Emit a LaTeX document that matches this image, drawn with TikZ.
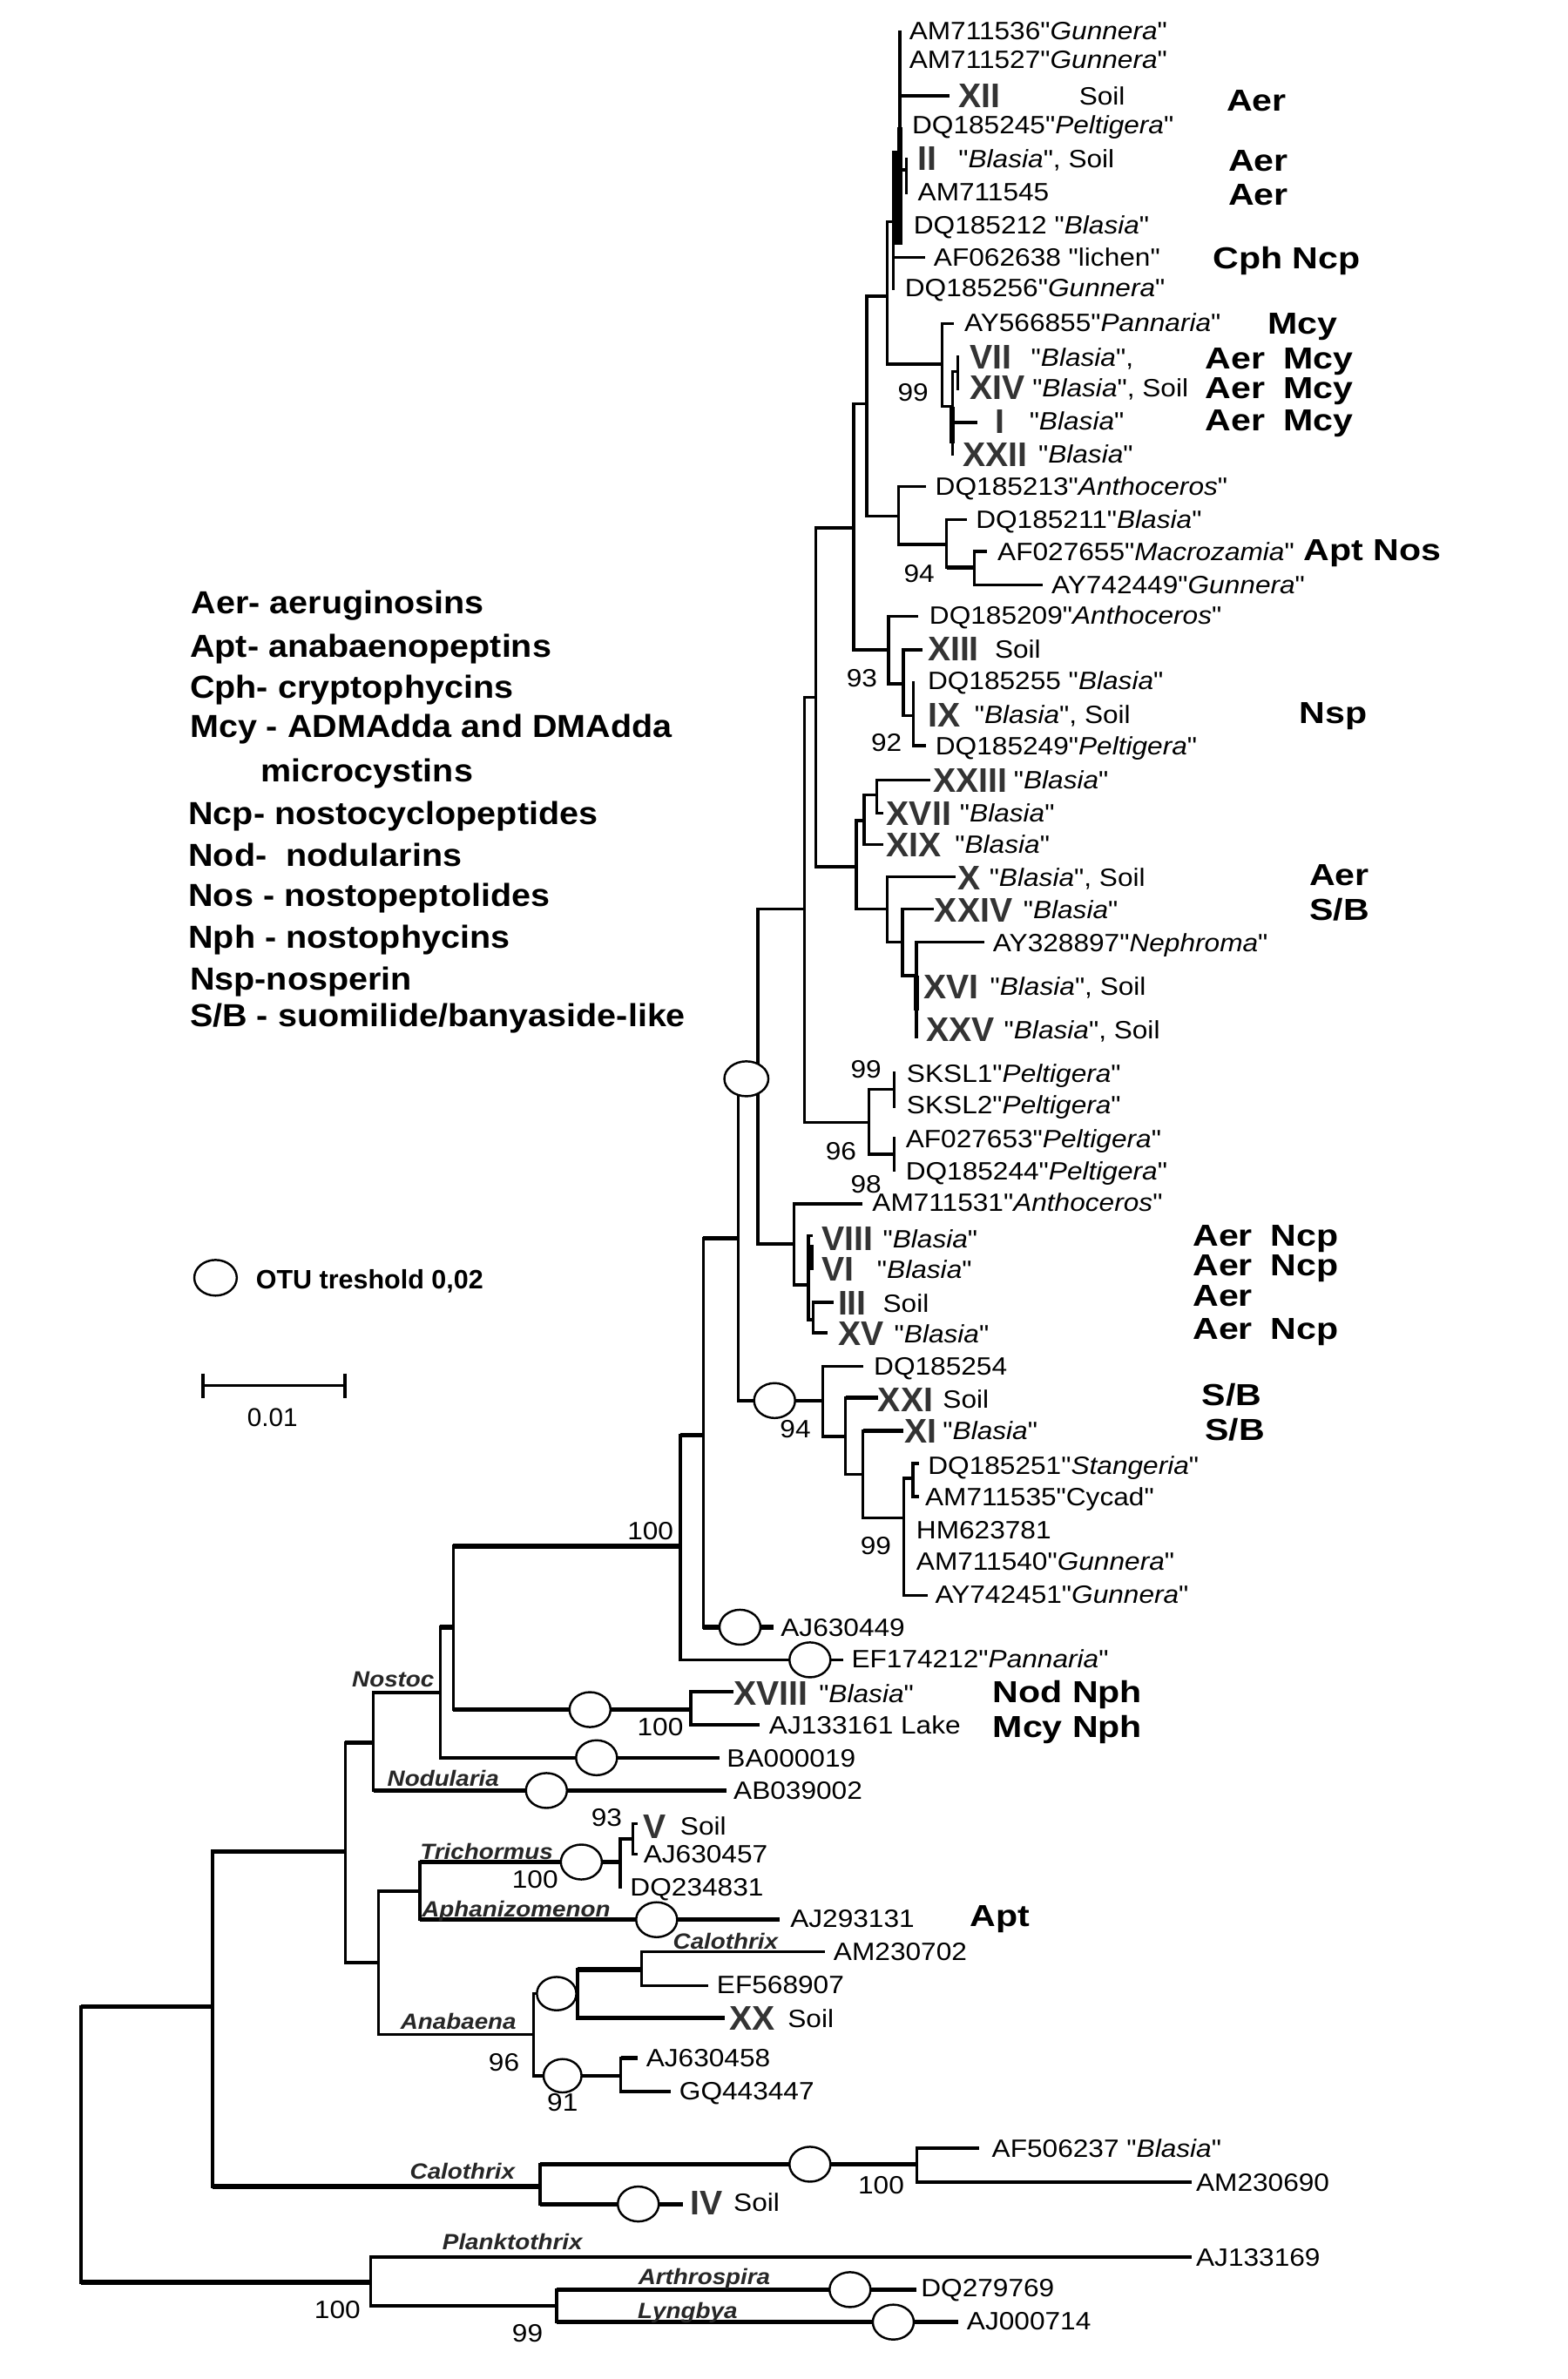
\documentclass[tikz,border=0pt]{standalone}
\usepackage{fontspec}
\setmainfont{Liberation Sans}
\newfontfamily\tipf[FakeStretch=1.1]{Liberation Sans}
\newfontfamily\toxf[FakeStretch=1.18]{Liberation Sans}
\newfontfamily\legf[FakeStretch=1.08]{Liberation Sans}
\newfontfamily\numf{Liberation Sans}
\usetikzlibrary{shapes.geometric}
\begin{document}
\begin{tikzpicture}[x=1pt,y=-1pt,line join=miter,
  br/.style={line width=2pt},
  thk/.style={line width=3pt},
  tip/.style={font=\tipf\fontsize{16.5}{16.5}\selectfont,anchor=west,inner sep=0pt,text height=11.8pt,text depth=0pt},
  num/.style={font=\numf\bfseries\fontsize{22.5}{22.5}\selectfont,text=black!80,anchor=west,inner sep=0pt,text height=16pt,text depth=0pt},
  tox/.style={font=\toxf\bfseries\fontsize{20}{20}\selectfont,anchor=west,inner sep=0pt,text height=14.3pt,text depth=0pt},
  leg/.style={font=\legf\bfseries\fontsize{21}{21}\selectfont,anchor=west,inner sep=0pt,text height=15pt,text depth=0pt},
  genus/.style={font=\tipf\bfseries\itshape\fontsize{14.5}{14.5}\selectfont,text=black!85,inner sep=0pt,text height=10.4pt,text depth=0pt},
  boot/.style={font=\tipf\fontsize{16.5}{16.5}\selectfont,inner sep=0pt,text height=11.8pt,text depth=0pt},
  otu/.style={ellipse,draw,fill=white,line width=1.4pt,inner sep=0pt,minimum width=27pt,minimum height=23pt},
]
\fill[white] (0,0) rectangle (1033,1567.3);
\useasboundingbox (0,0) rectangle (1033,1567.3);

% ---------- internal nodes ----------
\coordinate (root) at (53.3,1412);
\coordinate (AG) at (140,1321.8);
\coordinate (AQ) at (244.3,1503.6);
\coordinate (AR) at (366.7,1519.1);
\coordinate (AK) at (355.8,1440.4);
\coordinate (AP) at (604,1425.8);
\coordinate (AE) at (227.5,1219.6);
\coordinate (AD) at (246,1148);
\coordinate (AF) at (249.5,1293);
\coordinate (AC) at (290,1115);
\coordinate (AA) at (298.7,1072);
\coordinate (X) at (448.3,1018.6);
\coordinate (AB) at (455,1126.3);
\coordinate (AH) at (276.7,1246);
\coordinate (AL) at (351.4,1340.3);
\coordinate (AI) at (408.5,1226.7);
\coordinate (AJ) at (416.8,1211.4);
\coordinate (AM) at (380.5,1313.4);
\coordinate (AN) at (422.7,1297.5);
\coordinate (AO) at (409,1367.5);
\coordinate (Y) at (463.4,945.5);
\coordinate (Z) at (486.3,815.7);
\coordinate (S) at (499.3,710.7);
\coordinate (J) at (530,598.8);
\coordinate (H) at (537.5,459.5);
\coordinate (A) at (562.3,347.8);
\coordinate (B) at (571,266);
\coordinate (C) at (584.5,195);
\coordinate (TC) at (588.5,146);
\coordinate (TCa) at (592.7,100);
\coordinate (TCb) at (597,112);
\coordinate (MN) at (620.7,240);
\coordinate (MN2) at (627.4,267.8);
\coordinate (MN3) at (630.9,244.8);
\coordinate (D) at (592,340);
\coordinate (E) at (623.6,358.7);
\coordinate (F) at (641.8,374);
\coordinate (G) at (585.5,428);
\coordinate (K) at (595,450.6);
\coordinate (L) at (601.6,471.4);
\coordinate (I) at (564.2,571);
\coordinate (M) at (569.4,540.6);
\coordinate (N) at (577.5,523.8);
\coordinate (O) at (584.4,598.8);
\coordinate (P) at (594.6,620.8);
\coordinate (Q) at (603.6,642.8);
\coordinate (R) at (572.4,739.5);
\coordinate (T) at (589.2,717.5);
\coordinate (U) at (589.2,760.5);
\coordinate (V) at (523.2,819.6);
\coordinate (V2) at (532.5,846.5);
\coordinate (V3) at (535.6,869.5);
\coordinate (W) at (542,922.7);
\coordinate (W2) at (557,946.4);
\coordinate (W3) at (568.5,971.2);
\coordinate (W4) at (595.5,1000);
\coordinate (W5) at (601.5,974);

% ---------- branch ends ----------
\coordinate (t1) at (592.7,20);
\coordinate (t2) at (592.7,40);
\coordinate (t3) at (625.6,63);
\coordinate (t4) at (592.7,82);
\coordinate (t5) at (597,104);
\coordinate (t6) at (597,128);
\coordinate (t7) at (588.5,148);
\coordinate (t8) at (609.3,169.5);
\coordinate (t9) at (588.5,191);
\coordinate (t10) at (628.4,213.3);
\coordinate (t11) at (630.9,234.3);
\coordinate (t12) at (630.9,257.3);
\coordinate (t13) at (643.7,278.3);
\coordinate (t14) at (627.4,300);
\coordinate (t15) at (610,320.4);
\coordinate (t16) at (637,342.4);
\coordinate (t17) at (650.4,363.4);
\coordinate (t18) at (686.7,385.4);
\coordinate (t19) at (605,406);
\coordinate (t20) at (608,428);
\coordinate (t21) at (601.6,448.6);
\coordinate (t22) at (601.6,471.4);
\coordinate (t23) at (610,491.2);
\coordinate (t24) at (613,513.9);
\coordinate (t25) at (582,535.6);
\coordinate (t26) at (582,556.4);
\coordinate (t27) at (629.4,577.7);
\coordinate (t28) at (615,598.8);
\coordinate (t29) at (648.5,620.8);
\coordinate (t30) at (603.6,650);
\coordinate (t31) at (603.6,684);
\coordinate (t32) at (589.2,706);
\coordinate (t33) at (589.2,729.8);
\coordinate (t34) at (589.2,749);
\coordinate (t35) at (589.2,772);
\coordinate (t36) at (568,793);
\coordinate (t37) at (535.6,814);
\coordinate (t38) at (535.6,836);
\coordinate (t39) at (549,858);
\coordinate (t40) at (545.2,878);
\coordinate (t41) at (568.5,900);
\coordinate (t42) at (578.2,920.7);
\coordinate (t43) at (595,942.5);
\coordinate (t44) at (605.4,964);
\coordinate (t45) at (605.4,986);
\coordinate (t46) at (595.5,1007.7);
\coordinate (t47) at (595.5,1028.5);
\coordinate (t48) at (611,1051);
\coordinate (t49) at (509.5,1072);
\coordinate (t50) at (555.6,1093.5);
\coordinate (t51) at (483.2,1114.5);
\coordinate (t52) at (500.6,1136.2);
\coordinate (t53) at (474.3,1158);
\coordinate (t54) at (478.7,1179.6);
\coordinate (t55) at (420,1201.5);
\coordinate (t56) at (420,1221.6);
\coordinate (t57) at (408.5,1244);
\coordinate (t58) at (513.9,1264.7);
\coordinate (t59) at (543.5,1285.8);
\coordinate (t60) at (466.7,1308.2);
\coordinate (t61) at (477.6,1329.6);
\coordinate (t62) at (420,1355.8);
\coordinate (t63) at (442,1378);
\coordinate (t64) at (645,1415.1);
\coordinate (t65) at (785,1437.5);
\coordinate (t66) at (450,1452);
\coordinate (t67) at (785,1487);
\coordinate (t68) at (604,1508.4);
\coordinate (t69) at (631.4,1529.8);

% ---------- branches ----------
\foreach \p/\c in {root/AG,root/AQ,AG/AE,AG/AK,AQ/t67,AQ/AR,AR/t68,AR/t69,AK/AP,AK/t66,AP/t64,AP/t65,
  AE/AD,AE/AF,AD/AC,AD/t54,AC/AA,AC/t53,AA/X,AA/AB,AB/t51,AB/t52,AF/AH,AF/AL,AH/AI,AH/t58,
  AI/AJ,AI/t57,AJ/t55,AJ/t56,AL/AM,AL/AO,AM/AN,AM/t61,AN/t59,AN/t60,AO/t62,AO/t63,
  X/Y,X/t50,Y/Z,Y/t49,Z/S,Z/W,S/J,S/V,J/H,J/R,H/A,H/I,A/B,A/G,B/C,B/D,C/TC,C/MN,
  TC/TCa,TC/TCb,TC/t7,TC/t8,TC/t9,TCa/t1,TCa/t2,TCa/t3,TCa/t4,TCb/t5,TCb/t6,
  MN/t10,MN/MN2,MN2/MN3,MN2/t13,MN2/t14,MN3/t11,MN3/t12,D/t15,D/E,E/t16,E/F,F/t17,F/t18,
  G/t19,G/K,K/t20,K/L,L/t21,L/t22,L/t23,I/M,I/O,M/N,M/t26,N/t24,N/t25,O/t27,O/P,P/t28,P/Q,
  Q/t29,Q/t30,Q/t31,R/T,R/U,T/t32,T/t33,U/t34,U/t35,V/t36,V/V2,V2/t37,V2/t38,V2/V3,V3/t39,V3/t40,
  W/t41,W/W2,W2/t42,W2/W3,W3/t43,W3/W4,W4/W5,W4/t46,W4/t47,W4/t48,W5/t44,W5/t45}
  {\draw[br] (\p) |- (\c);}
% thicker horizontals
\foreach \p/\c in {root/AG,root/AQ,AG/AE,AG/AK,AR/t68,AR/t69,AK/AP,AK/t66,AE/AD,AD/t54,AC/AA,
  AA/X,AA/AB,AH/AI,AH/t58,AM/AN,AM/t61,AO/t62,X/Y,Y/Z,Y/t49,E/F,W2/t42,W3/t43}
  {\draw[thk] (\p |- \c) -- (\c);}
% bold bars
\fill (591,84) rectangle (594.5,100);
\fill (587.5,100) rectangle (594.5,161);
\fill (625.6,267.8) rectangle (629.2,292);
\fill (601.9,642.8) rectangle (605.6,665.7);
\fill (531.8,820) rectangle (536.2,837);

% ---------- OTU ellipses ----------
\node[otu,minimum width=29pt] (e1) at (491.7,710.7) {};
\node[otu] (e2) at (510.3,922.7) {};
\node[otu] (e3) at (487.5,1072) {};
\node[otu] (e4) at (533.6,1093.5) {};
\node[otu] (e5) at (388.7,1126.3) {};
\node[otu] (e6) at (393,1158) {};
\node[otu] (e7) at (360,1179.6) {};
\node[otu] (e8) at (383,1226.7) {};
\node[otu] (e9) at (432.6,1264.7) {};
\node[otu,minimum width=26pt,minimum height=22pt] (e10) at (366.7,1313.4) {};
\node[otu,minimum width=25pt,minimum height=22pt] (e11) at (370.6,1367.5) {};
\node[otu] (e12) at (533.6,1425.8) {};
\node[otu] (e13) at (420.5,1452) {};
\node[otu] (e14) at (560,1508.4) {};
\node[otu] (e15) at (588.5,1529.8) {};

% ---------- tip labels ----------
\node[tip] (a1) at (598.8,20.1) {AM711536"\textit{Gunnera}"};
\node[tip] (a2) at (598.8,39.2) {AM711527"\textit{Gunnera}"};
\node[num] (n3) at (631.3,63.1) {XII};
\node[tip] (h3) at (710.7,63.1) {Soil};
\node[tox] (x3) at (808,66) {Aer};
\node[tip] (a4) at (600.7,82) {DQ185245"\textit{Peltigera}"};
\node[num] (n5) at (604.5,104.3) {II};
\node[tip] (h5) at (631.3,104.3) {"\textit{Blasia}", Soil};
\node[tox] (x5) at (809,105.6) {Aer};
\node[tip] (a6) at (604.5,126.3) {AM711545};
\node[tox] (x6) at (809,128) {Aer};
\node[tip] (a7) at (601.7,148.3) {DQ185212 "\textit{Blasia}"};
\node[tip] (a8) at (615,169.5) {AF062638 "lichen"};
\node[tox] (x8) at (799,170) {Cph Ncp};
\node[tip] (a9) at (596,189.4) {DQ185256"\textit{Gunnera}"};
\node[tip] (a10) at (635.1,212.3) {AY566855"\textit{Pannaria}"};
\node[tox] (x10) at (835,213) {Mcy};
\node[num] (n11) at (638.9,235.3) {VII};
\node[tip] (h11) at (679.1,235.3) {"\textit{Blasia}",};
\node[tox] (x11) at (794,235.8) {Aer};
\node[tox] (y11) at (845.5,235.8) {Mcy};
\node[num] (n12) at (638.9,255.4) {XIV};
\node[tip] (h12) at (680,255.4) {"\textit{Blasia}", Soil};
\node[tox] (x12) at (794,255.3) {Aer};
\node[tox] (y12) at (845.5,255.3) {Mcy};
\node[num] (n13) at (655.2,277.4) {I};
\node[tip] (h13) at (678,277.4) {"\textit{Blasia}"};
\node[tox] (x13) at (794,276.8) {Aer};
\node[tox] (y13) at (845.5,276.8) {Mcy};
\node[num] (n14) at (634.1,299.4) {XXII};
\node[tip] (h14) at (683.9,299.4) {"\textit{Blasia}"};
\node[tip] (a15) at (616,320.4) {DQ185213"\textit{Anthoceros}"};
\node[tip] (a16) at (642.7,342.4) {DQ185211"\textit{Blasia}"};
\node[tip] (a17) at (657,363.4) {AF027655"\textit{Macrozamia}"};
\node[tox] (x17) at (858.7,362) {Apt Nos};
\node[tip] (a18) at (692.5,385.4) {AY742449"\textit{Gunnera}"};
\node[tip] (a19) at (612.1,405.5) {DQ185209"\textit{Anthoceros}"};
\node[num] (n20) at (611,427.5) {XIII};
\node[tip] (h20) at (655.2,427.5) {Soil};
\node[tip] (a21) at (611,448.6) {DQ185255 "\textit{Blasia}"};
\node[num] (n22) at (611.3,471) {IX};
\node[tip] (h22) at (641.9,471) {"\textit{Blasia}", Soil};
\node[tox] (x22) at (856,469.4) {Nsp};
\node[tip] (a23) at (616.1,491.2) {DQ185249"\textit{Peltigera}"};
\node[num] (n24) at (614.5,513.9) {XXIII};
\node[tip] (h24) at (667.7,513.9) {"\textit{Blasia}"};
\node[num] (n25) at (583.9,535.6) {XVII};
\node[tip] (h25) at (632.2,535.6) {"\textit{Blasia}"};
\node[num] (n26) at (583.9,556.4) {XIX};
\node[tip] (h26) at (629,556.4) {"\textit{Blasia}"};
\node[num] (n27) at (630.6,578) {X};
\node[tip] (h27) at (651.6,578) {"\textit{Blasia}", Soil};
\node[tox] (x27) at (862.5,576) {Aer};
\node[num] (n28) at (615.5,599.2) {XXIV};
\node[tip] (h28) at (674,599.2) {"\textit{Blasia}"};
\node[tox] (x28) at (862.6,599) {S/B};
\node[tip] (a29) at (654,621) {AY328897"\textit{Nephroma}"};
\node[num] (n30) at (608.2,649.7) {XVI};
\node[tip] (h30) at (652.1,649.7) {"\textit{Blasia}", Soil};
\node[num] (n31) at (610,678.3) {XXV};
\node[tip] (h31) at (661.3,678.3) {"\textit{Blasia}", Soil};
\node[tip] (a32) at (597.2,707) {SKSL1"\textit{Peltigera}"};
\node[tip] (a33) at (597.2,727.7) {SKSL2"\textit{Peltigera}"};
\node[tip] (a34) at (596.5,750) {AF027653"\textit{Peltigera}"};
\node[tip] (a35) at (596.5,771.2) {DQ185244"\textit{Peltigera}"};
\node[tip] (a36) at (574.5,792) {AM711531"\textit{Anthoceros}"};
\node[num] (n37) at (541.3,816) {VIII};
\node[tip] (h37) at (581.5,816) {"\textit{Blasia}"};
\node[tox] (x37) at (785.7,813.7) {Aer};
\node[tox] (y37) at (837,813.7) {Ncp};
\node[num] (n38) at (541.3,836) {VI};
\node[tip] (h38) at (577.7,836) {"\textit{Blasia}"};
\node[tox] (x38) at (785.7,833.5) {Aer};
\node[tox] (y38) at (837,833.5) {Ncp};
\node[num] (n39) at (551.9,858.5) {III};
\node[tip] (h39) at (581.5,858.5) {Soil};
\node[tox] (x39) at (785.7,853.3) {Aer};
\node[num] (n40) at (551.9,878.5) {XV};
\node[tip] (h40) at (589,878.5) {"\textit{Blasia}"};
\node[tox] (x40) at (785.7,875) {Aer};
\node[tox] (y40) at (837,875) {Ncp};
\node[tip] (a41) at (575.5,900) {DQ185254};
\node[num] (n42) at (578.2,921.7) {XXI};
\node[tip] (h42) at (621,921.7) {Soil};
\node[tox] (x42) at (791.6,918.8) {S/B};
\node[num] (n43) at (595.7,942.5) {XI};
\node[tip] (h43) at (621,942.5) {"\textit{Blasia}"};
\node[tox] (x43) at (793.6,941.5) {S/B};
\node[tip] (a44) at (611.2,965.2) {DQ185251"\textit{Stangeria}"};
\node[tip] (a45) at (609.3,986) {AM711535"Cycad"};
\node[tip] (a46) at (603.5,1007.7) {HM623781};
\node[tip] (a47) at (603.5,1028.5) {AM711540"\textit{Gunnera}"};
\node[tip] (a48) at (615.9,1050.2) {AY742451"\textit{Gunnera}"};
\node[tip] (a49) at (514.2,1072) {AJ630449};
\node[tip] (a50) at (560.8,1093) {EF174212"\textit{Pannaria}"};
\node[num] (n51) at (483.2,1115.5) {XVIII};
\node[tip] (h51) at (539.4,1115.5) {"\textit{Blasia}"};
\node[tox] (x51) at (653.9,1114.5) {Nod Nph};
\node[tip] (a52) at (506.5,1136.2) {AJ133161 Lake};
\node[tox] (x52) at (653.9,1137.2) {Mcy Nph};
\node[tip] (a53) at (478.7,1158.5) {BA000019};
\node[tip] (a54) at (483.1,1179.6) {AB039002};
\node[num] (n55) at (423.8,1203.2) {V};
\node[tip] (h55) at (448,1203.2) {Soil};
\node[tip] (a56) at (423.8,1221.6) {AJ630457};
\node[tip] (a57) at (415,1243.1) {DQ234831};
\node[tip] (a58) at (520.5,1263.6) {AJ293131};
\node[tox] (x58) at (639,1262) {Apt};
\node[tip] (a59) at (549,1285.8) {AM230702};
\node[tip] (a60) at (472.1,1307.2) {EF568907};
\node[num] (n61) at (480.4,1329.6) {XX};
\node[tip] (h61) at (518.8,1329.6) {Soil};
\node[tip] (a62) at (425.5,1355.8) {AJ630458};
\node[tip] (a63) at (447.4,1377.2) {GQ443447};
\node[tip] (a64) at (653.3,1415.1) {AF506237 "\textit{Blasia}"};
\node[tip] (a65) at (787.8,1437.5) {AM230690};
\node[num] (n66) at (454.6,1451.1) {IV};
\node[tip] (h66) at (483.1,1451.1) {Soil};
\node[tip] (a67) at (787.8,1487) {AJ133169};
\node[tip] (a68) at (606.6,1507.4) {DQ279769};
\node[tip] (a69) at (636.8,1528.8) {AJ000714};

% ---------- bootstrap values ----------
\node[boot] (b1) at (601.5,258.3) {99};
\node[boot] (b2) at (605.5,377.5) {94};
\node[boot] (b3) at (567.8,446.6) {93};
\node[boot] (b4) at (584,489) {92};
\node[boot] (b5) at (570.5,704) {99};
\node[boot] (b6) at (554,758.4) {96};
\node[boot] (b7) at (570.5,780) {98};
\node[boot] (b8) at (524,941.5) {94};
\node[boot] (b9) at (577,1018) {99};
\node[boot] (b10) at (428.5,1008.5) {100};
\node[boot] (b11) at (435,1137.5) {100};
\node[boot] (b12) at (399.7,1197) {93};
\node[boot] (b13) at (352.5,1238) {100};
\node[boot] (b14) at (332,1358.7) {96};
\node[boot] (b15) at (370.6,1385) {91};
\node[boot] (b16) at (580.5,1439.4) {100};
\node[boot] (b17) at (222.3,1521.6) {100};
\node[boot] (b18) at (347.5,1537) {99};

% ---------- genus labels ----------
\node[genus] (g1) at (259,1106) {Nostoc};
\node[genus] (g2) at (292,1171.4) {Nodularia};
\node[genus] (g3) at (320.6,1219.6) {Trichormus};
\node[genus] (g4) at (340,1257.5) {Aphanizomenon};
\node[genus] (g5) at (478,1279) {Calothrix};
\node[genus] (g6) at (302,1331.5) {Anabaena};
\node[genus] (g7) at (304.7,1430.6) {Calothrix};
\node[genus] (g8) at (337.6,1477) {Planktothrix};
\node[genus] (g9) at (464,1499.7) {Arthrospira};
\node[genus] (g10) at (453,1522) {Lyngbya};

% ---------- legend ----------
\node[leg] (L1) at (126,397) {Aer- aeruginosins};
\node[leg] (L2) at (125,425.7) {Apt- anabaenopeptins};
\node[leg] (L3) at (125,452.4) {Cph- cryptophycins};
\node[leg] (L4) at (125,478.5) {Mcy - ADMAdda and DMAdda};
\node[leg] (L5) at (171.5,507.5) {microcystins};
\node[leg] (L6) at (124,535.4) {Ncp- nostocyclopeptides};
\node[leg] (L7) at (124,563) {Nod-\ \ nodularins};
\node[leg] (L8) at (124,589.7) {Nos - nostopeptolides};
\node[leg] (L9) at (124,617.4) {Nph - nostophycins};
\node[leg] (L10) at (125,645) {Nsp-nosperin};
\node[leg] (L11) at (125,669) {S/B - suomilide/banyaside-like};

\node[otu,minimum width=28pt,minimum height=23.5pt] (otuk) at (142,841.8) {};
\node[font=\numf\bfseries\fontsize{17.5}{17.5}\selectfont,anchor=west,inner sep=0pt,text height=12.5pt,text depth=0pt] (otut) at (168.4,842.6) {OTU treshold 0,02};

\coordinate (sb1) at (133.9,912.8);
\coordinate (sb2) at (227.3,912.8);
\draw[line width=2.2pt] (sb1) -- (sb2);
\draw[line width=2.2pt] ([yshift=8pt]sb1) -- ([yshift=-8.2pt]sb1);
\draw[line width=2.2pt] ([yshift=8pt]sb2) -- ([yshift=-8.2pt]sb2);
\node[font=\numf\fontsize{17}{17}\selectfont,inner sep=0pt,text height=12.2pt,text depth=0pt] (sbl) at (179.5,933.5) {0.01};
\end{tikzpicture}
\end{document}
